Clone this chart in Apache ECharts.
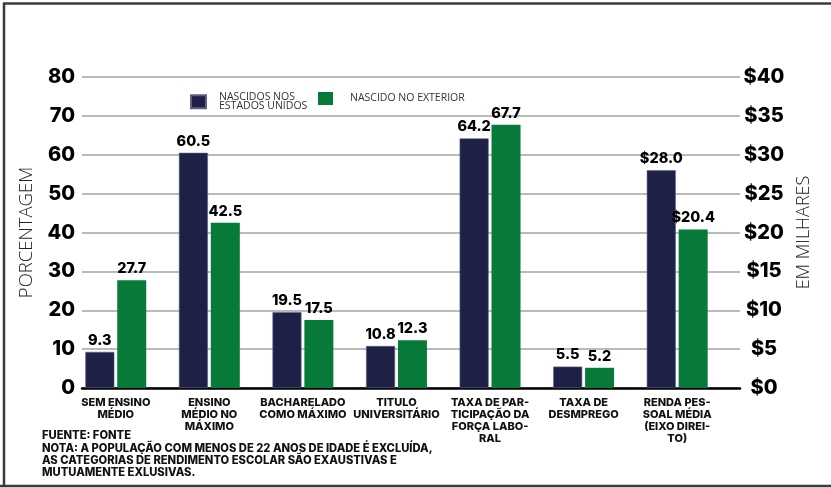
<!DOCTYPE html>
<html>
<head>
<meta charset="utf-8">
<style>
  html, body { margin: 0; padding: 0; background: #ffffff; }
  #chart { width: 831px; height: 488px; }
</style>
<script src="https://cdn.jsdelivr.net/npm/echarts@6/dist/echarts.min.js"></script>
</head>
<body>
<div id="chart"></div>
<script>
// Education and labour indicators, native-born vs. foreign-born
const categories = [
  'SEM ENSINO\nMÉDIO',
  'ENSINO\nMÉDIO NO\nMÁXIMO',
  'BACHARELADO\nCOMO MÁXIMO',
  'TITULO\nUNIVERSITÁRIO',
  'TAXA DE PAR-\nTICIPAÇÃO DA\nFORÇA LABO-\nRAL',
  'TAXA DE\nDESMPREGO',
  'RENDA PES-\nSOAL MÉDIA\n(EIXO DIREI-\nTO)'
];
// percentages (left axis)
const nativePct  = [9.3, 60.5, 19.5, 10.8, 64.2, 5.5, '-'];
const foreignPct = [27.7, 42.5, 17.5, 12.3, 67.7, 5.2, '-'];
// mean personal income, thousands of dollars (right axis)
const nativeIncome  = ['-', '-', '-', '-', '-', '-', 28.0];
const foreignIncome = ['-', '-', '-', '-', '-', '-', 20.4];

const NATIVE = 'NASCIDOS NOS\nESTADOS UNIDOS';
const FOREIGN = 'NASCIDO NO EXTERIOR';
const NAVY = '#1f2046';
const GREEN = '#077a3a';
const HEAVY = 'Inter, "DejaVu Sans", sans-serif';
const LIGHT = '"Open Sans", "Lato", "DejaVu Sans", sans-serif';

const chart = echarts.init(document.getElementById('chart'), null, { renderer: 'canvas' });

const valueLabel = (prefix) => ({
  show: true,
  position: 'top',
  distance: 4,
  color: '#000',
  fontFamily: HEAVY,
  fontWeight: 800,
  fontSize: 14.5,
  formatter: (p) => prefix + p.value.toFixed(1)
});

const barBase = {
  type: 'bar',
  barWidth: 29,
  barGap: '10%',
  xAxisIndex: 1,
  yAxisIndex: 2
};

chart.setOption({
  backgroundColor: '#ffffff',
  animation: false,
  grid: [
    // scale grid: gridlines and the two visible value axes
    { left: 82, right: 91, top: 77, bottom: 100 },
    // bar grid
    { left: 69, right: 107, top: 77, bottom: 100 }
  ],
  legend: [
    {
      data: [NATIVE], left: 190, top: 92, padding: 0,
      itemWidth: 15, itemHeight: 13, icon: 'rect',
      textStyle: { fontFamily: LIGHT, fontSize: 10.5, lineHeight: 8.5, color: '#333', padding: [0, 0, 0, 8] }
    },
    {
      data: [FOREIGN], left: 318, top: 92, padding: 0,
      itemWidth: 15, itemHeight: 13, icon: 'rect',
      textStyle: { fontFamily: LIGHT, fontSize: 10.5, color: '#333', padding: [0, 0, 0, 12] }
    }
  ],
  xAxis: [
    {
      gridIndex: 0, type: 'value', min: 0, max: 1,
      axisLine: { show: true, onZero: false, lineStyle: { color: '#000', width: 2.5 } },
      axisTick: { show: false }, axisLabel: { show: false }, splitLine: { show: false }
    },
    {
      gridIndex: 1, type: 'category', data: categories,
      axisLine: { show: false }, axisTick: { show: false },
      axisLabel: {
        margin: 9, interval: 0, color: '#111',
        fontFamily: HEAVY, fontWeight: 800, fontSize: 11, lineHeight: 12, align: 'center'
      }
    },
    {
      gridIndex: 1, type: 'category', data: categories, show: false
    }
  ],
  yAxis: [
    {
      gridIndex: 0, type: 'value', min: 0, max: 80, interval: 10, position: 'left',
      name: 'PORCENTAGEM', nameLocation: 'middle', nameGap: 44, nameRotate: 90,
      nameTextStyle: { fontFamily: LIGHT, fontWeight: 300, fontSize: 18.5, color: '#222' },
      axisLine: { show: false }, axisTick: { show: false },
      axisLabel: { margin: 7, color: '#000', fontFamily: HEAVY, fontWeight: 800, fontSize: 20 },
      splitLine: { show: true, lineStyle: { color: '#a3a3a3', width: 1.5 } }
    },
    {
      gridIndex: 0, type: 'value', min: 0, max: 40, interval: 5, position: 'right',
      name: 'EM MILHARES', nameLocation: 'middle', nameGap: 55, nameRotate: 90,
      nameTextStyle: { fontFamily: LIGHT, fontWeight: 300, fontSize: 18, color: '#222' },
      axisLine: { show: false }, axisTick: { show: false },
      axisLabel: {
        margin: 24, align: 'center', color: '#000', fontFamily: HEAVY, fontWeight: 800, fontSize: 20,
        formatter: (v) => '$' + v
      },
      splitLine: { show: false }
    },
    { gridIndex: 1, type: 'value', min: 0, max: 80, interval: 10, show: false },
    { gridIndex: 1, type: 'value', min: 0, max: 40, interval: 5, show: false }
  ],
  series: [
    Object.assign({}, barBase, {
      name: NATIVE, data: nativePct,
      itemStyle: { color: NAVY, borderColor: '#5d6285', borderWidth: 0.6 },
      label: valueLabel('')
    }),
    Object.assign({}, barBase, {
      name: FOREIGN, data: foreignPct,
      itemStyle: { color: GREEN },
      label: valueLabel('')
    }),
    Object.assign({}, barBase, {
      name: NATIVE, data: nativeIncome, xAxisIndex: 2, yAxisIndex: 3,
      itemStyle: { color: NAVY, borderColor: '#5d6285', borderWidth: 0.6 },
      label: valueLabel('$')
    }),
    Object.assign({}, barBase, {
      name: FOREIGN, data: foreignIncome, xAxisIndex: 2, yAxisIndex: 3,
      itemStyle: { color: GREEN },
      label: valueLabel('$')
    })
  ],
  graphic: [
    // frame
    { type: 'line', shape: { x1: 3, y1: 3.5, x2: 831, y2: 3.5 }, style: { stroke: '#3a3a3a', lineWidth: 2.5 }, silent: true },
    { type: 'line', shape: { x1: 4, y1: 3, x2: 4, y2: 486 }, style: { stroke: '#3a3a3a', lineWidth: 2.5 }, silent: true },
    { type: 'line', shape: { x1: 0, y1: 486, x2: 831, y2: 486 }, style: { stroke: '#3a3a3a', lineWidth: 2.5 }, silent: true },
    // source and note
    {
      type: 'text', left: 42, top: 430, silent: true,
      style: {
        text: 'FUENTE: FONTE\nNOTA: A POPULAÇÃO COM MENOS DE 22 ANOS DE IDADE É EXCLUÍDA,\nAS CATEGORIAS DE RENDIMENTO ESCOLAR SÃO EXAUSTIVAS E\nMUTUAMENTE EXLUSIVAS.',
        fontFamily: HEAVY, fontWeight: 800, fontSize: 11.2, lineHeight: 12.2, fill: '#111'
      }
    }
  ]
});
</script>
</body>
</html>
